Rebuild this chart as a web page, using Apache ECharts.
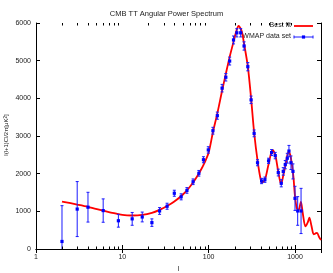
<!DOCTYPE html>
<html><head><meta charset="utf-8">
<script src="https://cdn.jsdelivr.net/npm/echarts@6/dist/echarts.min.js"></script>
<style>html,body{margin:0;padding:0;background:#fff}#c{width:333px;height:273px}</style>
</head><body><div id="c"></div>
<script>
// WMAP binned data: multipole l, value, error
const dataL = [2,3,4,6,9,13,17,22,27,33,40,48,56,66,77,87,99,112,126,143,158,175,194,212,235,257,284,310,336,368,410,448,494,536,590,640,693,731,771,814,851,898,947,1000,1074,1175];
const dataV = [200,1060,1110,1020,750,800,850,700,1010,1135,1480,1385,1555,1785,2010,2370,2630,3140,3540,4270,4560,4990,5550,5740,5740,5390,4840,3960,3070,2290,1805,1840,2340,2560,2480,2030,1745,2060,2240,2410,2600,2290,2060,1345,1010,1010];
const dataE = [950,730,395,310,170,170,130,100,90,80,80,80,75,75,75,80,85,90,95,100,100,105,105,110,110,110,110,100,90,80,70,70,70,80,85,90,95,100,110,130,150,180,200,320,380,600];
// Best-fit curve
const fitL = [2,3,4,6,8,10,13,17,22,27,33,40,50,60,70,80,90,100,112,126,143,158,175,194,210,222,240,257,284,310,336,368,400,420,450,494,550,590,640,690,731,780,840,880,920,960,1000,1050,1100,1170,1230,1320,1400,1467,1550,1650,1750,1800,1900,2000];
const fitV = [1260,1180,1120,1020,950,905,890,905,960,1040,1140,1260,1440,1640,1850,2070,2300,2560,3100,3600,4200,4650,5100,5500,5800,5920,5800,5450,4850,4000,3100,2350,1850,1770,1850,2250,2630,2500,2050,1720,1950,2250,2580,2500,2250,1900,1400,1080,1040,1250,950,600,700,830,620,390,420,430,320,240];
const xMinorTicks = [2,3,4,5,6,7,8,9,20,30,40,50,60,70,80,90,200,300,400,500,600,700,800,900];

const FONT = 'Liberation Sans';
const chart = echarts.init(document.getElementById('c'));
const axCommon = {
  axisLine:{show:true,lineStyle:{color:'#000',width:1}},
  axisTick:{show:true,inside:true,length:4,lineStyle:{color:'#000'}},
  splitLine:{show:false}
};
chart.setOption({
  animation:false,
  backgroundColor:'#fff',
  title:{text:'CMB TT Angular Power Spectrum',left:'center',top:5,
    textStyle:{fontFamily:FONT,fontSize:7.5,fontWeight:'normal',color:'#222'}},
  grid:{left:36,right:12,top:23,bottom:24,containLabel:false,outerBoundsMode:'none'},
  xAxis:[
    Object.assign({type:'log',logBase:10,min:1,max:2000,position:'bottom',
      name:'l',nameLocation:'middle',nameGap:13,
      nameTextStyle:{fontFamily:FONT,fontSize:7,color:'#222'},
      axisLabel:{fontFamily:FONT,fontSize:7,color:'#222',margin:5,
        formatter:v=>(v===1||v===10||v===100||v===1000)?String(v):''}},axCommon),
    Object.assign({type:'log',logBase:10,min:1,max:2000,position:'top',
      axisLabel:{show:false}},axCommon)
  ],
  yAxis:[
    Object.assign({type:'value',min:0,max:6000,interval:1000,position:'left',
      axisLabel:{fontFamily:FONT,fontSize:7,color:'#222',margin:5,formatter:v=>String(v)}},axCommon),
    Object.assign({type:'value',min:0,max:6000,interval:1000,position:'right',
      axisLabel:{show:false}},axCommon)
  ],
  series:[
    {type:'custom',name:'minor',xAxisIndex:0,yAxisIndex:0,silent:true,z:5,
      encode:{x:0,y:1},
      data:xMinorTicks.map(l=>[l,0]),
      renderItem:function(params,api){
        const b=api.coord([api.value(0),0]);
        const t=api.coord([api.value(0),6000]);
        const xx=Math.round(b[0])+0.5;
        const st={stroke:'#000',lineWidth:1};
        return {type:'group',children:[
          {type:'line',shape:{x1:xx,y1:b[1],x2:xx,y2:b[1]-2.5},style:st},
          {type:'line',shape:{x1:xx,y1:t[1],x2:xx,y2:t[1]+2.5},style:st}
        ]};
      }},
    {type:'line',name:'Best fit',data:fitL.map((l,i)=>[l,fitV[i]]),
      smooth:0.3,showSymbol:false,lineStyle:{color:'#ff0000',width:1.8},z:3},
    {type:'custom',name:'WMAP data set',clip:true,z:4,
      encode:{x:0,y:1},
      data:dataL.map((l,i)=>[l,dataV[i],dataE[i]]),
      renderItem:function(params,api){
        const x=api.value(0),y=api.value(1),e=api.value(2);
        const p=api.coord([x,y]);
        const t=api.coord([x,y+e]);
        const b=api.coord([x,y-e]);
        const st={stroke:'#1a1aff',lineWidth:1};
        return {type:'group',children:[
          {type:'line',shape:{x1:p[0],y1:t[1],x2:p[0],y2:b[1]},style:st},
          {type:'line',shape:{x1:p[0]-1.5,y1:t[1],x2:p[0]+1.5,y2:t[1]},style:st},
          {type:'line',shape:{x1:p[0]-1.5,y1:b[1],x2:p[0]+1.5,y2:b[1]},style:st},
          {type:'rect',shape:{x:p[0]-1.6,y:p[1]-1.6,width:3.2,height:3.2},style:{fill:'#0000ff'}}
        ]};
      }}
  ],
  graphic:[
    {type:'text',x:6,y:135,rotation:Math.PI/2,z:100,
      style:{text:'{a|l(l+1)C}{s|l}{a|/2\u03c0[\u03bcK}{p|2}{a|]}',align:'center',verticalAlign:'middle',
        rich:{a:{fontFamily:FONT,fontSize:6,fill:'#222'},
              s:{fontFamily:FONT,fontSize:4.5,fill:'#222',verticalAlign:'bottom'},
              p:{fontFamily:FONT,fontSize:4.5,fill:'#222',verticalAlign:'top'}}}},
    {type:'group',z:100,children:[
      {type:'text',x:291,y:22,style:{text:'Best fit',font:'7px "Liberation Sans"',fill:'#222',textAlign:'right'}},
      {type:'line',shape:{x1:294,y1:26,x2:313,y2:26},style:{stroke:'#ff0000',lineWidth:1.8}},
      {type:'text',x:291,y:33,style:{text:'WMAP data set',font:'7px "Liberation Sans"',fill:'#222',textAlign:'right'}},
      {type:'line',shape:{x1:294,y1:37,x2:313,y2:37},style:{stroke:'#1a1aff',lineWidth:1}},
      {type:'line',shape:{x1:294,y1:35.5,x2:294,y2:38.5},style:{stroke:'#1a1aff',lineWidth:1}},
      {type:'line',shape:{x1:313,y1:35.5,x2:313,y2:38.5},style:{stroke:'#1a1aff',lineWidth:1}},
      {type:'rect',shape:{x:301.9,y:35.4,width:3.2,height:3.2},style:{fill:'#0000ff'}}
    ]}
  ]
});
</script></body></html>
